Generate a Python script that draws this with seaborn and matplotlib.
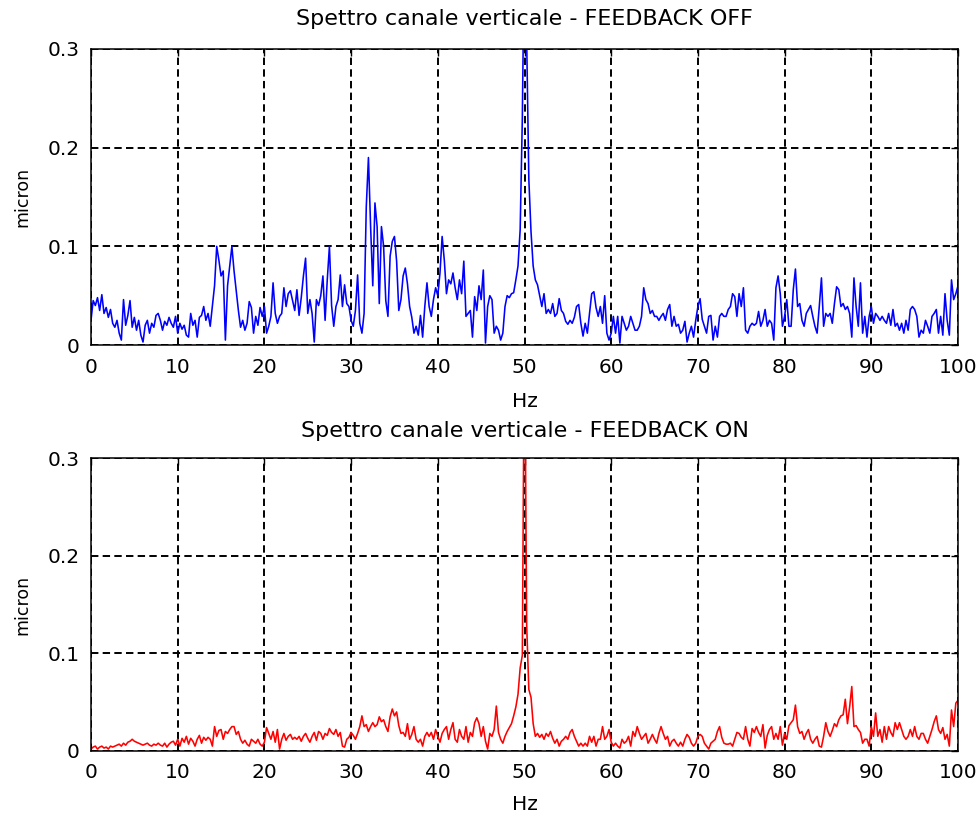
import numpy as np
import pandas as pd
import matplotlib
matplotlib.use("Agg")
import matplotlib.pyplot as plt
import seaborn as sns

# Frequency axis: 0-100 Hz sampled every 0.25 Hz
freq_hz = np.linspace(0, 100, 401)

# Vertical channel spectrum amplitude (micron), feedback OFF
spectrum_off = [
    # 0 - 9.75 Hz
    0.025, 0.045, 0.040, 0.048, 0.035, 0.051, 0.032, 0.038, 0.028, 0.036,
    0.022, 0.018, 0.025, 0.012, 0.005, 0.046, 0.020, 0.030, 0.045, 0.018,
    0.028, 0.015, 0.025, 0.010, 0.003, 0.020, 0.025, 0.012, 0.022, 0.018,
    0.030, 0.032, 0.025, 0.015, 0.024, 0.020, 0.028, 0.022, 0.018, 0.029,
    # 10 - 19.75 Hz
    0.012, 0.022, 0.016, 0.020, 0.010, 0.008, 0.032, 0.020, 0.025, 0.008,
    0.028, 0.030, 0.039, 0.025, 0.032, 0.019, 0.039, 0.060, 0.100, 0.086,
    0.070, 0.075, 0.005, 0.060, 0.080, 0.100, 0.075, 0.055, 0.035, 0.018,
    0.025, 0.015, 0.022, 0.044, 0.038, 0.012, 0.029, 0.020, 0.038, 0.029,
    # 20 - 29.75 Hz
    0.039, 0.012, 0.019, 0.029, 0.063, 0.032, 0.022, 0.029, 0.032, 0.058,
    0.039, 0.052, 0.055, 0.045, 0.035, 0.056, 0.030, 0.048, 0.070, 0.088,
    0.032, 0.046, 0.032, 0.003, 0.046, 0.040, 0.050, 0.070, 0.025, 0.066,
    0.100, 0.040, 0.019, 0.039, 0.046, 0.071, 0.039, 0.061, 0.042, 0.039,
    # 30 - 39.75 Hz
    0.025, 0.019, 0.035, 0.071, 0.022, 0.012, 0.032, 0.140, 0.190, 0.120,
    0.060, 0.144, 0.120, 0.042, 0.120, 0.100, 0.045, 0.029, 0.090, 0.105,
    0.110, 0.085, 0.035, 0.046, 0.070, 0.078, 0.062, 0.039, 0.028, 0.012,
    0.019, 0.010, 0.030, 0.008, 0.039, 0.063, 0.039, 0.029, 0.046, 0.058,
    # 40 - 49.75 Hz
    0.050, 0.073, 0.110, 0.086, 0.052, 0.066, 0.062, 0.073, 0.058, 0.046,
    0.066, 0.052, 0.085, 0.029, 0.032, 0.035, 0.008, 0.049, 0.035, 0.060,
    0.046, 0.076, 0.002, 0.039, 0.050, 0.046, 0.012, 0.019, 0.015, 0.005,
    0.012, 0.039, 0.050, 0.048, 0.052, 0.053, 0.066, 0.080, 0.117, 0.230,
    # 50 - 59.75 Hz
    0.420, 0.310, 0.168, 0.115, 0.080, 0.066, 0.061, 0.050, 0.039, 0.052,
    0.032, 0.036, 0.032, 0.042, 0.029, 0.032, 0.047, 0.035, 0.032, 0.024,
    0.021, 0.025, 0.022, 0.028, 0.039, 0.041, 0.022, 0.009, 0.022, 0.012,
    0.032, 0.052, 0.054, 0.038, 0.029, 0.039, 0.022, 0.050, 0.012, 0.005,
    # 60 - 69.75 Hz
    0.012, 0.029, 0.012, 0.029, 0.002, 0.029, 0.022, 0.015, 0.019, 0.029,
    0.022, 0.015, 0.015, 0.019, 0.029, 0.058, 0.046, 0.042, 0.032, 0.035,
    0.029, 0.029, 0.025, 0.029, 0.032, 0.025, 0.036, 0.041, 0.019, 0.029,
    0.019, 0.021, 0.012, 0.015, 0.024, 0.003, 0.012, 0.019, 0.008, 0.025,
    # 70 - 79.75 Hz
    0.039, 0.047, 0.026, 0.019, 0.012, 0.029, 0.030, 0.005, 0.019, 0.008,
    0.029, 0.032, 0.029, 0.029, 0.036, 0.039, 0.052, 0.049, 0.029, 0.052,
    0.039, 0.058, 0.015, 0.012, 0.019, 0.022, 0.020, 0.022, 0.034, 0.019,
    0.025, 0.036, 0.019, 0.025, 0.022, 0.005, 0.058, 0.070, 0.052, 0.019,
    # 80 - 89.75 Hz
    0.029, 0.046, 0.019, 0.019, 0.056, 0.077, 0.039, 0.042, 0.025, 0.019,
    0.032, 0.036, 0.040, 0.029, 0.019, 0.012, 0.039, 0.068, 0.019, 0.032,
    0.029, 0.032, 0.022, 0.042, 0.059, 0.056, 0.039, 0.042, 0.036, 0.039,
    0.032, 0.008, 0.068, 0.039, 0.019, 0.063, 0.012, 0.029, 0.008, 0.029,
    # 90 - 100 Hz
    0.039, 0.022, 0.032, 0.029, 0.025, 0.029, 0.025, 0.022, 0.032, 0.020,
    0.036, 0.019, 0.022, 0.015, 0.022, 0.012, 0.025, 0.015, 0.036, 0.039,
    0.036, 0.029, 0.008, 0.015, 0.012, 0.025, 0.019, 0.012, 0.029, 0.032,
    0.036, 0.012, 0.029, 0.010, 0.052, 0.025, 0.010, 0.066, 0.046, 0.052,
    0.060,
]

# Vertical channel spectrum amplitude (micron), feedback ON
spectrum_on = [
    # 0 - 9.75 Hz
    0.002, 0.004, 0.005, 0.002, 0.004, 0.005, 0.003, 0.004, 0.002, 0.005,
    0.004, 0.005, 0.006, 0.007, 0.005, 0.008, 0.006, 0.009, 0.010, 0.012,
    0.010, 0.009, 0.008, 0.007, 0.006, 0.007, 0.008, 0.006, 0.005, 0.007,
    0.006, 0.008, 0.006, 0.005, 0.008, 0.004, 0.007, 0.009, 0.010, 0.006,
    # 10 - 19.75 Hz
    0.012, 0.005, 0.013, 0.009, 0.015, 0.007, 0.013, 0.010, 0.005, 0.012,
    0.016, 0.008, 0.014, 0.011, 0.014, 0.012, 0.005, 0.025, 0.015, 0.021,
    0.022, 0.012, 0.020, 0.018, 0.022, 0.025, 0.025, 0.017, 0.020, 0.012,
    0.008, 0.011, 0.007, 0.005, 0.012, 0.010, 0.008, 0.012, 0.007, 0.005,
    # 20 - 29.75 Hz
    0.009, 0.024, 0.018, 0.012, 0.020, 0.009, 0.022, 0.002, 0.012, 0.018,
    0.011, 0.015, 0.017, 0.012, 0.014, 0.012, 0.015, 0.010, 0.015, 0.018,
    0.013, 0.009, 0.015, 0.019, 0.011, 0.020, 0.018, 0.012, 0.018, 0.016,
    0.023, 0.019, 0.017, 0.022, 0.015, 0.019, 0.005, 0.004, 0.012, 0.014,
    # 30 - 39.75 Hz
    0.019, 0.016, 0.012, 0.018, 0.025, 0.036, 0.025, 0.027, 0.020, 0.025,
    0.029, 0.025, 0.027, 0.035, 0.030, 0.032, 0.025, 0.020, 0.035, 0.043,
    0.036, 0.040, 0.026, 0.018, 0.019, 0.015, 0.028, 0.012, 0.017, 0.025,
    0.012, 0.009, 0.012, 0.005, 0.015, 0.019, 0.015, 0.019, 0.012, 0.022,
    # 40 - 49.75 Hz
    0.015, 0.009, 0.018, 0.022, 0.025, 0.012, 0.022, 0.029, 0.012, 0.009,
    0.022, 0.015, 0.012, 0.025, 0.009, 0.019, 0.015, 0.029, 0.034, 0.028,
    0.015, 0.025, 0.010, 0.002, 0.018, 0.015, 0.022, 0.046, 0.019, 0.012,
    0.008, 0.015, 0.020, 0.024, 0.028, 0.036, 0.045, 0.058, 0.085, 0.098,
    # 50 - 59.75 Hz
    0.450, 0.129, 0.063, 0.055, 0.028, 0.015, 0.018, 0.014, 0.017, 0.012,
    0.018, 0.015, 0.020, 0.013, 0.008, 0.012, 0.005, 0.010, 0.012, 0.015,
    0.012, 0.019, 0.022, 0.015, 0.010, 0.005, 0.008, 0.005, 0.008, 0.005,
    0.015, 0.009, 0.015, 0.005, 0.012, 0.012, 0.025, 0.012, 0.015, 0.022,
    # 60 - 69.75 Hz
    0.009, 0.005, 0.008, 0.005, 0.003, 0.012, 0.008, 0.010, 0.015, 0.005,
    0.020, 0.015, 0.025, 0.018, 0.012, 0.015, 0.018, 0.008, 0.012, 0.017,
    0.012, 0.008, 0.018, 0.025, 0.018, 0.012, 0.015, 0.005, 0.010, 0.012,
    0.008, 0.005, 0.009, 0.005, 0.012, 0.017, 0.014, 0.008, 0.005, 0.008,
    # 70 - 79.75 Hz
    0.015, 0.017, 0.015, 0.008, 0.005, 0.002, 0.008, 0.010, 0.012, 0.020,
    0.025, 0.014, 0.008, 0.007, 0.007, 0.008, 0.005, 0.012, 0.019, 0.018,
    0.014, 0.012, 0.025, 0.012, 0.005, 0.023, 0.019, 0.025, 0.019, 0.015,
    0.027, 0.003, 0.016, 0.022, 0.025, 0.012, 0.018, 0.012, 0.025, 0.006,
    # 80 - 89.75 Hz
    0.018, 0.012, 0.026, 0.029, 0.032, 0.047, 0.025, 0.018, 0.020, 0.012,
    0.018, 0.022, 0.012, 0.008, 0.012, 0.015, 0.005, 0.004, 0.015, 0.029,
    0.020, 0.015, 0.021, 0.028, 0.025, 0.032, 0.036, 0.037, 0.053, 0.028,
    0.045, 0.066, 0.025, 0.026, 0.022, 0.019, 0.008, 0.012, 0.012, 0.005,
    # 90 - 100 Hz
    0.025, 0.015, 0.039, 0.015, 0.022, 0.009, 0.025, 0.012, 0.025, 0.019,
    0.015, 0.029, 0.022, 0.029, 0.022, 0.015, 0.012, 0.015, 0.022, 0.015,
    0.025, 0.015, 0.012, 0.018, 0.018, 0.012, 0.008, 0.015, 0.022, 0.030,
    0.036, 0.022, 0.018, 0.024, 0.012, 0.017, 0.005, 0.042, 0.025, 0.049,
    0.052,
]

x_ticks = [0, 10, 20, 30, 40, 50, 60, 70, 80, 90, 100]
y_ticks = [0.0, 0.1, 0.2, 0.3]
y_tick_labels = ["0", "0.1", "0.2", "0.3"]
titles = ["Spettro canale verticale - FEEDBACK OFF",
          "Spettro canale verticale - FEEDBACK ON"]

sns.set_style("white")
plt.rcParams["font.family"] = ["DejaVu Sans"]
plt.rcParams["font.size"] = 14.5
plt.rcParams["axes.titlepad"] = 0
plt.rcParams["text.color"] = "black"
plt.rcParams["axes.labelcolor"] = "black"
plt.rcParams["xtick.color"] = "black"
plt.rcParams["ytick.color"] = "black"

df_off = pd.DataFrame({"Hz": freq_hz, "micron": spectrum_off})
df_on = pd.DataFrame({"Hz": freq_hz, "micron": spectrum_on})

fig = plt.figure(figsize=(9.8, 8.19), dpi=100, facecolor="white")
W, H = 980, 819
ax_top = fig.add_axes([91 / W, 1 - 345 / H, 867 / W, 296 / H])
ax_bot = fig.add_axes([91 / W, 1 - 751 / H, 867 / W, 293 / H])

# (axes, data, colour, title, top px, bottom px, title centre px, xlabel centre px)
panels = [
    (ax_top, df_off, "#0000ff", titles[0], 49, 345, 19, 401),
    (ax_bot, df_on, "#ff0000", titles[1], 458, 751, 431, 804),
]
for ax, df, color, title, top_px, bottom_px, title_y, xlabel_y in panels:
    h_px = bottom_px - top_px
    sns.lineplot(data=df, x="Hz", y="micron", ax=ax, color=color,
                 linewidth=1.15, estimator=None, sort=False)
    ax.set_xlim(0, 100)
    ax.set_ylim(0, 0.3)
    ax.set_xticks(x_ticks)
    ax.set_xticklabels([str(t) for t in x_ticks])
    ax.set_yticks(y_ticks)
    ax.set_yticklabels(y_tick_labels)
    ax.set_axisbelow(True)
    ax.grid(True, color="black", linestyle=(0, (3.8, 2.2)), linewidth=1.4)
    ax.tick_params(direction="in", length=5, width=1, colors="black",
                   labelcolor="black", top=True, right=True)
    ax.tick_params(axis="x", pad=9)
    ax.tick_params(axis="y", pad=8)
    for sp in ax.spines.values():
        sp.set_visible(True)
        sp.set_color("black")
        sp.set_linewidth(1.1)
    ax.set_xlabel("Hz", fontsize=14.5, color="black")
    ax.xaxis.label.set_va("center")
    ax.xaxis.set_label_coords(0.5, -(xlabel_y - bottom_px) / h_px)
    ax.set_ylabel("micron", fontsize=12.5, color="black")
    ax.yaxis.label.set_va("center")
    ax.yaxis.set_label_coords(-(91 - 22) / 867, 0.5)
    ax.set_title(title, y=1 + (top_px - title_y) / h_px, va="center",
                 fontsize=16, color="black")
    ax.set_facecolor("white")

fig.savefig("out.png", dpi=100, facecolor="white")
